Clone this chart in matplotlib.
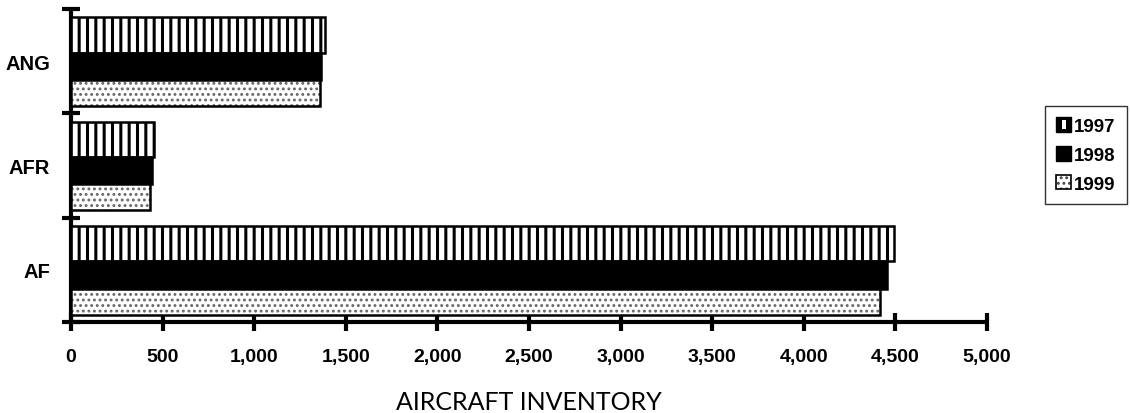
import matplotlib
matplotlib.use("Agg")
import matplotlib.pyplot as plt
import numpy as np
from matplotlib.patches import Patch, Rectangle
from matplotlib.legend_handler import HandlerTuple, HandlerBase

categories = ["AF", "AFR", "ANG"]
years = ["1997", "1998", "1999"]
v1997 = [4492, 453, 1386]
v1998 = [4454, 442, 1365]
v1999 = [4416, 431, 1360]
xticks = [0, 500, 1000, 1500, 2000, 2500, 3000, 3500, 4000, 4500, 5000]
xticklabels = ["0", "500", "1,000", "1,500", "2,000", "2,500", "3,000",
               "3,500", "4,000", "4,500", "5,000"]

plt.rcParams['font.family'] = ['Liberation Sans', 'DejaVu Sans']

fig = plt.figure(figsize=(11.3, 4.14), dpi=100)
ax = fig.add_axes([71/1130, 1 - 323/414, (987-71)/1130, (323-10)/414])

y = np.arange(len(categories))
bands = {"1997": (0.08, 0.34), "1998": (-0.18, 0.26), "1999": (-0.43, 0.25)}

plt.rcParams['hatch.linewidth'] = 2.2
b, h = bands["1997"]
ax.barh(y + b, v1997, height=h, align='edge', color='white',
        edgecolor='black', hatch='||', linewidth=1.8, zorder=3)
b, h = bands["1998"]
ax.barh(y + b, v1998, height=h, align='edge', color='black',
        edgecolor='black', linewidth=1.8, zorder=3)
plt.rcParams['hatch.linewidth'] = 1.3
b, h = bands["1999"]
ax.barh(y + b, v1999, height=h, align='edge', color='white',
        edgecolor='#666666', hatch='...', linewidth=0, zorder=3)
ax.barh(y + b, v1999, height=h, align='edge', color='none',
        edgecolor='black', linewidth=1.8, zorder=4)

ax.set_xlim(0, 5000)
ax.set_ylim(-0.5, 2.5)
for s in ['top', 'right']:
    ax.spines[s].set_visible(False)
for s in ['left', 'bottom']:
    ax.spines[s].set_linewidth(3.0)
    ax.spines[s].set_capstyle('round')

ax.set_xticks(xticks)
ax.set_xticklabels(xticklabels, fontsize=14, fontweight='bold')
ax.tick_params(axis='x', direction='inout', length=13, width=3.0, pad=12)
for t in ax.xaxis.get_ticklines():
    t.set_solid_capstyle('round')

ax.set_yticks(y)
ax.set_yticklabels(categories, fontsize=14.5, fontweight='bold')
ax.tick_params(axis='y', which='major', length=0, pad=15)
ax.set_yticks(np.arange(-0.5, len(categories), 1.0), minor=True)
ax.tick_params(axis='y', which='minor', direction='inout', length=13, width=3.0)

ax.set_xlabel("AIRCRAFT INVENTORY", fontsize=18, family=['Lato', 'DejaVu Sans'],
              labelpad=18)


class StripeHandler(HandlerBase):
    def create_artists(self, legend, orig_handle, xdescent, ydescent,
                       width, height, fontsize, trans):
        outer = Rectangle((-xdescent, -ydescent), width, height,
                          facecolor='black', edgecolor='black', lw=1,
                          transform=trans)
        inner = Rectangle((-xdescent + width * 0.38, -ydescent + height * 0.18),
                          width * 0.26, height * 0.64, facecolor='white',
                          edgecolor='none', transform=trans)
        return [outer, inner]


h97 = Patch(facecolor='black')
h98 = Patch(facecolor='black', edgecolor='black', linewidth=1.0)
h99a = Patch(facecolor='white', edgecolor='#444444', hatch='...', linewidth=0)
h99b = Patch(facecolor='none', edgecolor='black', linewidth=1.2)
leg = fig.legend([h97, h98, (h99a, h99b)], years,
                 handler_map={tuple: HandlerTuple(ndivide=1, pad=0),
                              h97: StripeHandler()},
                 loc='upper left', bbox_to_anchor=(1045/1130, 1 - 107/414),
                 bbox_transform=fig.transFigure, frameon=True, fancybox=False,
                 prop={'weight': 'bold', 'size': 13.5}, handlelength=0.8,
                 handleheight=0.8, handletextpad=0.15, labelspacing=0.6,
                 borderpad=0.6, borderaxespad=0)
leg.get_frame().set_edgecolor('black')
leg.get_frame().set_linewidth(1.0)

fig.savefig("out.png", dpi=100)
